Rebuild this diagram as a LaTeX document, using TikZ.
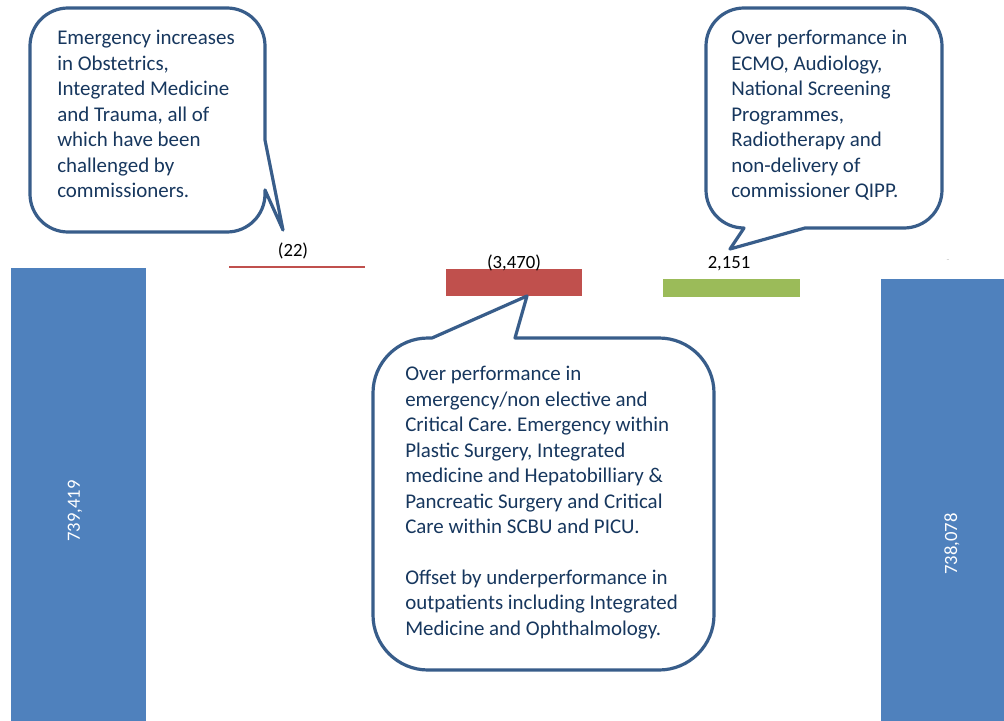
\documentclass[tikz,border=0pt]{standalone}
\usepackage{fontspec}
\setmainfont{Carlito}
\usepackage{tikz}
\usetikzlibrary{positioning}
\frenchspacing

\definecolor{barblue}{HTML}{4F81BD}
\definecolor{barred}{HTML}{C0504D}
\definecolor{bargreen}{HTML}{9BBB59}
\definecolor{calloutblue}{HTML}{385D8A}
\definecolor{notetext}{HTML}{17375E}

\begin{document}
\begin{tikzpicture}[
    x=0.75pt, y=0.75pt,
    callout/.style={draw=calloutblue, fill=white, line width=2.4pt, line join=round},
    note/.style={anchor=north west, inner sep=0pt, align=left, text=notetext,
                 font=\fontsize{15.7}{19.1}\selectfont},
    val/.style={inner sep=1pt, font=\fontsize{14}{16}\selectfont},
    barval/.style={val, text=white, rotate=90},
    dashval/.style={inner sep=0pt, text=gray!45, font=\fontsize{7}{8}\selectfont},
]
    \useasboundingbox (0,0) rectangle (1004,-721);

    % bar edges
    \def\barTop{-268}
    \def\barBot{-721}

    % Bars
    \fill[barblue] (11,\barTop) rectangle (146,\barBot);
    \draw[barred, line width=1.1pt] (229,-267) -- (365,-267);
    \fill[barred] (446,-269) rectangle (582,-296);
    \fill[bargreen] (663,-279) rectangle (800,-297);
    \fill[barblue] (881,-279) rectangle (1004,\barBot);

    % Values
    \node[val] (v22) at (293,-251) {(22)};
    \node[val] (v3470) at (514,-263) {(3,470)};
    \node[val] (v2151) at (729,-264) {2,151};
    \node[dashval] (vzero) at (948,-261) {-};
    \node[barval] (vstart) at (75,-511) {739,419};
    \node[barval] (vend) at (952,-544) {738,078};

    % Callout: left
    \draw[callout] (68,-8) -- (227,-8) arc[start angle=90, end angle=0, radius=38]
        -- (265,-140) -- (283,-230) -- (265,-190) -- (265,-194)
        arc[start angle=0, end angle=-90, radius=38] -- (68,-232)
        arc[start angle=270, end angle=180, radius=38] -- (30,-46)
        arc[start angle=180, end angle=90, radius=38] -- cycle;
    \node[note] (noteleft) at (57,-30)
        {Emergency increases\\in Obstetrics,\\Integrated Medicine\\and Trauma, all of\\which have been\\challenged by\\commissioners.};

    % Callout: right
    \draw[callout] (744,-8) -- (904,-8) arc[start angle=90, end angle=0, radius=38]
        -- (942,-190) arc[start angle=0, end angle=-90, radius=38]
        -- (805,-228) -- (730,-249) -- (744,-228)
        arc[start angle=270, end angle=180, radius=38] -- (706,-46)
        arc[start angle=180, end angle=90, radius=38] -- cycle;
    \node[note] (noteright) at (731,-30)
        {Over performance in\\ECMO, Audiology,\\National Screening\\Programmes,\\Radiotherapy and\\non-delivery of\\commissioner QIPP.};

    % Callout: middle
    \draw[callout] (428,-338) -- (432,-338) -- (527,-296) -- (515,-338) -- (659,-338)
        arc[start angle=90, end angle=0, radius=55] -- (714,-615)
        arc[start angle=0, end angle=-90, radius=55] -- (428,-670)
        arc[start angle=270, end angle=180, radius=55] -- (373,-393)
        arc[start angle=180, end angle=90, radius=55] -- cycle;
    \node[note] (notemid) at (405,-366)
        {Over performance in\\emergency/non elective and\\Critical Care. Emergency within\\Plastic Surgery, Integrated\\medicine and Hepatobilliary \&\\Pancreatic Surgery and Critical\\Care within SCBU and PICU.\\[19.1pt]Offset by underperformance in\\outpatients including Integrated\\Medicine and Ophthalmology.};
\end{tikzpicture}
\end{document}
